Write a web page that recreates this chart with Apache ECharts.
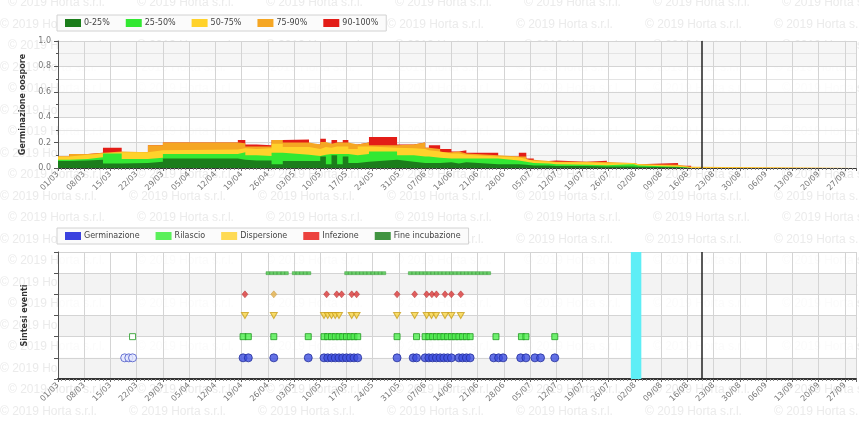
<!DOCTYPE html>
<html lang="it">
<head>
<meta charset="UTF-8">
<title>Germinazione oospore - Sintesi eventi</title>
<script src="https://cdn.jsdelivr.net/npm/echarts@6/dist/echarts.min.js"></script>
<style>
    body { margin: 0; padding: 0; background: #fff; }
    #ec { width: 859px; height: 423px; }
</style>
</head>
<body>
<div id="ec"></div>
<script>
    // asse x: giorni dal 01/03/2019 (0 = 01/03)
    const tickLabels = ['01/03','08/03','15/03','22/03','29/03','05/04','12/04','19/04','26/04','03/05','10/05',
        '17/05','24/05','31/05','07/06','14/06','21/06','28/06','05/07','12/07','19/07','26/07','02/08','09/08',
        '16/08','23/08','30/08','06/09','13/09','20/09','27/09'];
    const lastDay = 213;      // 30/09
    const todayDay = 171.7;   // linea nera
    const cyanFrom = 152.9;   // banda azzurra
    const cyanTo = 155.7;

    // germinazione oospore: spessore di ogni fascia (grafico a gradini impilato)
    const bandNames = ['0-25%', '25-50%', '50-75%', '75-90%', '90-100%'];
    const stepDays = [0, 3, 8, 12, 17, 24, 28, 48, 50, 53, 57, 60, 67, 70, 71.5, 73, 74.5, 76, 77.5, 80, 83,
        90.5, 95, 98, 99, 102, 105, 107, 109, 117.5, 123, 125, 127, 131, 133, 141, 146.5, 153.5, 155, 165.5, 169, 213];
    const band0_25 = [.055, .06, .065, .035, .04, .05, .075, .065, .06, .06, .03, .055, .055, .09, .03, .10, .03, .09, .04, .05, .065,
        .05, .04, .04, .04, .045, .035, .045, .03, .03, .025, .02, .02, .015, .015, .012, .012, .01, .005, 0, 0, 0];
    const band25_50 = [.01, .01, .02, .08, .03, .03, .035, .06, .04, .035, .09, .05, .04, .015, .08, .01, .08, .02, .06, .06, .065,
        .05, .05, .05, .04, .03, .04, .03, .045, .03, .025, .02, .015, .015, .01, .01, .018, .01, .005, 0, 0, 0];
    const band50_75 = [.025, .035, .03, .01, .055, .06, .035, .03, .05, .06, .07, .06, .055, .06, .05, .06, .06, .06, .05, .06, .03,
        .055, .06, .05, .05, .04, .04, .03, .015, .025, .02, .015, .015, .015, .02, .015, .01, .01, .008, .005, 0, 0];
    const band75_90 = [0, .005, .005, .005, 0, .04, .055, .04, .02, .015, .03, .035, .035, .04, .03, .03, .03, .03, .035, .03, .02,
        .03, .05, .02, .02, .01, .015, .01, .01, .005, .02, .01, .005, .005, .005, .01, 0, 0, .007, .005, 0, 0];
    const band90_100 = [0, 0, 0, .03, 0, 0, 0, .025, .015, .01, 0, .025, 0, .025, 0, .02, 0, .02, 0, 0, .065,
        0, 0, 0, .03, .025, 0, .025, .02, 0, .03, .01, 0, .01, 0, .01, 0, 0, .015, .008, 0, 0];
    const bands = [band0_25, band25_50, band50_75, band75_90, band90_100];

    // sintesi eventi: giorni in cui compare ciascun evento
    const eventNames = ['Germinazione', 'Rilascio', 'Dispersione', 'Infezione', 'Fine incubazione'];
    const germHollowDays = [17.8, 18.9, 19.9];
    const germDays = [49.4, 50.8, 57.6, 66.8, 71, 72, 73, 74, 75, 76, 77, 78, 79, 80, 90.5, 94.8, 95.7,
        98, 99, 100, 101, 102, 103, 104, 105, 107, 108, 109, 110, 116.3, 117.6, 118.8, 123.5, 124.9, 127.3, 128.8, 132.6];
    const rilascioHollowDays = [19.9];
    const rilascioDays = [49.4, 50.8, 57.6, 66.8, 71, 72, 73, 74, 75, 76, 77, 78, 79, 80, 90.5, 95.7,
        98, 99, 100, 101, 102, 103, 104, 105, 106, 107, 108, 109, 110, 116.9, 123.7, 124.9, 132.6];
    const dispersioneDays = [49.9, 57.6, 71, 72, 73, 74, 75, 78.4, 79.7, 90.5, 95.2, 98.4, 99.7, 100.9, 103.3, 105, 107.5];
    const infezioneDays = [49.9, 71.7, 74.4, 75.7, 78.4, 79.7, 90.5, 95.2, 98.4, 99.8, 101, 103.3, 105, 107.5];
    const infezioneOrangeDays = [57.6];
    const fineIncubazioneDays = [56, 57, 58, 59, 60, 61, 63, 64, 65, 66, 67, 77, 78, 79, 80, 81, 82, 83, 84, 85, 86, 87,
        94, 95, 96, 97, 98, 99, 100, 101, 102, 103, 104, 105, 106, 107, 108, 109, 110, 111, 112, 113, 114, 115];

    const watermark = '\u00a9 2019 Horta s.r.l.';
    const FONT = 'DejaVu Sans';
    const bandColors = ['#1b7d1b', '#33e833', '#ffd22b', '#f5a623', '#e31d17'];
    const legendEventColors = ['#0a14d8', '#33ee33', '#ffd22b', '#e8140f', '#137a13'];

    let ec = echarts.init(document.getElementById('ec'));

    function xAxisFor(gridIndex) {
        return {
            type: 'value', gridIndex: gridIndex, min: 0, max: lastDay, interval: 7,
            axisLine: {show: true, onZero: false, lineStyle: {color: '#333', width: gridIndex ? 2 : 1}},
            axisTick: {show: true, length: 3, lineStyle: {color: '#666'}},
            minorTick: {show: true, splitNumber: 7, length: 2, lineStyle: {color: '#888'}},
            splitLine: {show: true, lineStyle: {color: '#d4d4d4'}},
            axisLabel: {
                rotate: 45, fontSize: 8, color: '#777', fontFamily: FONT, margin: 5, showMaxLabel: false,
                formatter: v => tickLabels[v / 7] || ''
            }
        };
    }

    // somma cumulata delle fasce: le fasce alte si disegnano prima, quelle basse sopra
    let cumul = stepDays.map(() => 0);
    let cumulBands = bands.map(b => {
        cumul = cumul.map((c, k) => c + b[k]);
        return cumul.slice();
    });

    let series = [];
    for (let i = bandNames.length - 1; i >= 0; i--) {
        let s = {
            name: bandNames[i], type: 'line', xAxisIndex: 0, yAxisIndex: 0, step: 'end',
            symbol: 'none', lineStyle: {width: 0}, itemStyle: {color: bandColors[i]},
            areaStyle: {color: bandColors[i], opacity: 1},
            data: stepDays.map((d, k) => [d, cumulBands[i][k]])
        };
        if (i === 0) {
            s.markLine = {
                silent: true, symbol: 'none', label: {show: false},
                lineStyle: {color: '#222', width: 1.5, type: 'solid'},
                data: [{xAxis: todayDay}]
            };
        }
        series.push(s);
    }

    function rowData(days, row) {
        return days.map(d => [d, row]);
    }
    series.push({
        name: 'Germinazione', type: 'scatter', xAxisIndex: 1, yAxisIndex: 1, symbol: 'circle', symbolSize: 8,
        itemStyle: {color: '#3d4fe0', borderColor: '#24309c', borderWidth: 1},
        data: germHollowDays.map(d => ({value: [d, 1], itemStyle: {color: '#e4e7ff', borderColor: '#4a56c8'}}))
            .concat(rowData(germDays, 1)),
        markArea: {
            silent: true, itemStyle: {color: '#5eeef6'},
            data: [[{xAxis: cyanFrom}, {xAxis: cyanTo}]]
        },
        markLine: {
            silent: true, symbol: 'none', label: {show: false},
            lineStyle: {color: '#222', width: 1.5, type: 'solid'},
            data: [{xAxis: todayDay}]
        }
    });
    series.push({
        name: 'Rilascio', type: 'scatter', xAxisIndex: 1, yAxisIndex: 1, symbol: 'rect', symbolSize: 6,
        itemStyle: {color: '#4ff04f', borderColor: '#1f9a1f', borderWidth: 1},
        data: rilascioHollowDays.map(d => ({value: [d, 2], itemStyle: {color: '#fff'}}))
            .concat(rowData(rilascioDays, 2))
    });
    series.push({
        name: 'Dispersione', type: 'scatter', xAxisIndex: 1, yAxisIndex: 1, symbol: 'triangle', symbolRotate: 180,
        symbolSize: [7, 6],
        itemStyle: {color: '#f7d445', borderColor: '#c9a021', borderWidth: 1},
        data: rowData(dispersioneDays, 3)
    });
    series.push({
        name: 'Infezione', type: 'scatter', xAxisIndex: 1, yAxisIndex: 1, symbol: 'diamond', symbolSize: [6, 7],
        itemStyle: {color: '#db3a3a', borderColor: '#a51f1f', borderWidth: 0.5},
        data: rowData(infezioneDays, 4)
            .concat(infezioneOrangeDays.map(d => ({value: [d, 4], itemStyle: {color: '#e4b04a', borderColor: '#b98a2a'}})))
    });
    series.push({
        name: 'Fine incubazione', type: 'scatter', xAxisIndex: 1, yAxisIndex: 1, symbol: 'rect', symbolSize: [3.6, 3],
        itemStyle: {color: '#48c848', borderColor: '#268a26', borderWidth: 0.5},
        data: rowData(fineIncubazioneDays, 5)
    });

    // filigrana
    let marks = [];
    for (let r = 0; r < 20; r++) {
        for (let c = 0; c < 8; c++) {
            marks.push({
                type: 'text', z: -10, silent: true,
                x: 8 + c * 129 - (r % 2) * 8, y: -3 + r * 21.5,
                style: {text: watermark, fill: '#ebebeb', font: '12px "Liberation Sans"'}
            });
        }
    }

    let legendBase = {
        icon: 'rect', itemWidth: 16, itemHeight: 8, itemGap: 16, padding: [4, 8],
        borderColor: '#d2d2d2', borderWidth: 1, backgroundColor: '#fbfbfb', selectedMode: false,
        textStyle: {fontSize: 8, fontFamily: FONT, color: '#444', padding: [0, 0, 0, -2]}
    };

    let option = {
        animation: false,
        graphic: marks,
        legend: [
            Object.assign({}, legendBase, {
                left: 57, top: 15,
                data: bandNames.map((n, i) => ({name: n, itemStyle: {color: bandColors[i]}}))
            }),
            Object.assign({}, legendBase, {
                left: 57, top: 228,
                data: eventNames.map((n, i) => ({name: n, itemStyle: {color: legendEventColors[i], borderWidth: 0}}))
            })
        ],
        grid: [
            {left: 58, right: 3, top: 41, height: 127, show: true, borderWidth: 0, backgroundColor: 'rgba(255,255,255,0.85)'},
            {left: 58, right: 3, top: 252, height: 127, show: true, borderWidth: 0, backgroundColor: 'rgba(255,255,255,0.8)'}
        ],
        xAxis: [xAxisFor(0), xAxisFor(1)],
        yAxis: [
            {
                type: 'value', gridIndex: 0, min: 0, max: 1, interval: 0.2,
                name: 'Germinazione oospore', nameLocation: 'middle', nameGap: 29,
                nameTextStyle: {fontSize: 8, fontWeight: 'bold', color: '#333', fontFamily: FONT},
                axisLine: {show: true, lineStyle: {color: '#555'}},
                axisTick: {show: true, length: 4, lineStyle: {color: '#555'}},
                minorTick: {show: true, splitNumber: 2, length: 2},
                splitLine: {lineStyle: {color: '#d4d4d4'}},
                minorSplitLine: {show: true, lineStyle: {color: '#e4e4e4'}},
                splitArea: {show: true, areaStyle: {color: ['#f6f6f6', 'rgba(255,255,255,0)']}},
                axisLabel: {fontSize: 8, color: '#777', fontFamily: FONT, margin: 7, formatter: v => v.toFixed(1)}
            },
            {
                type: 'value', gridIndex: 1, min: 0, max: 6, interval: 1,
                name: 'Sintesi eventi', nameLocation: 'middle', nameGap: 29,
                nameTextStyle: {fontSize: 8, fontWeight: 'bold', color: '#333', fontFamily: FONT},
                axisLine: {show: true, lineStyle: {color: '#555'}},
                axisTick: {show: true, length: 4, lineStyle: {color: '#555'}},
                splitLine: {lineStyle: {color: '#d4d4d4'}},
                splitArea: {show: true, areaStyle: {color: ['#f3f3f3', 'rgba(255,255,255,0)']}},
                axisLabel: {show: false}
            }
        ],
        series: series
    };
    ec.setOption(option);
</script>
</body>
</html>
